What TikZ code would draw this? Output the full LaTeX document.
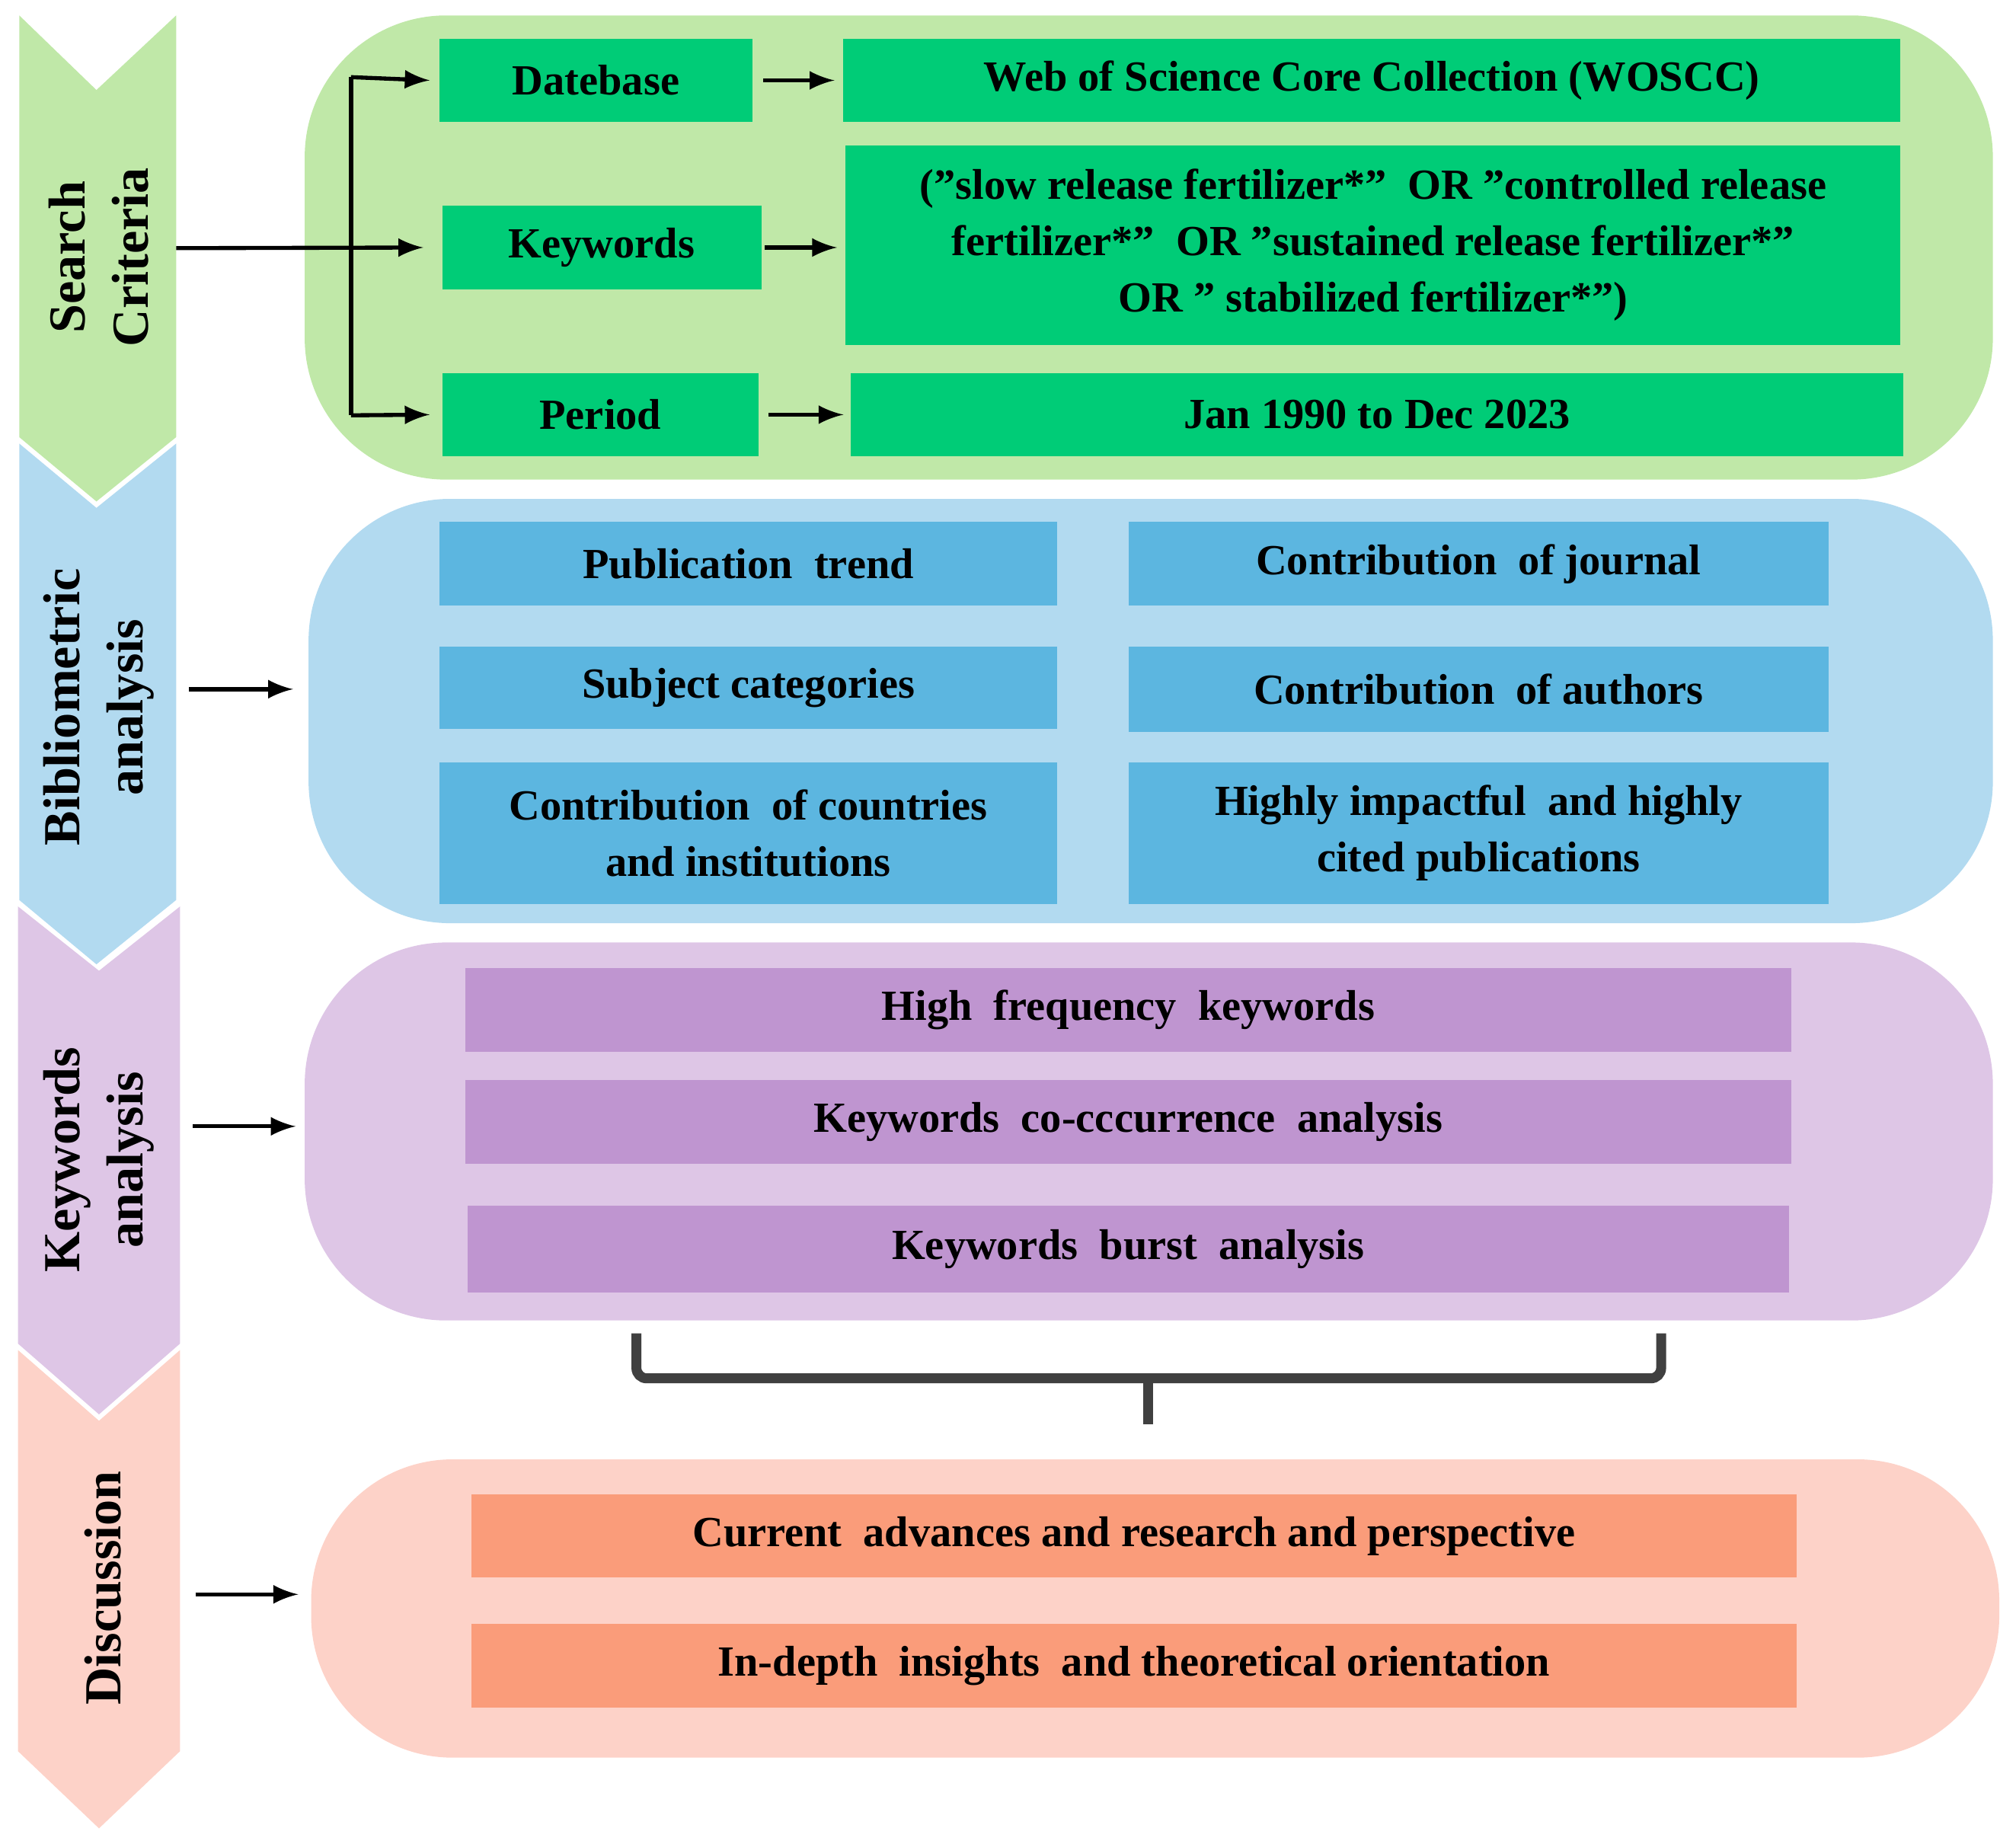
\documentclass[tikz,border=0pt]{standalone}
\usepackage{fontspec}
\setmainfont{Liberation Serif}
\definecolor{gL}{HTML}{C0E8A8}\definecolor{gB}{HTML}{00CC77}
\definecolor{bL}{HTML}{B2DAF0}\definecolor{bB}{HTML}{5CB6E0}
\definecolor{pL}{HTML}{DEC6E6}\definecolor{pB}{HTML}{BF95D0}
\definecolor{sL}{HTML}{FDD2C8}\definecolor{sB}{HTML}{FA9C7A}
\begin{document}
\begin{tikzpicture}[x=0.01cm,y=-0.01cm,
 bx/.style={rectangle,fill=#1,inner sep=0pt,align=center,font=\fontsize{9.5}{12.5}\selectfont\bfseries},
 panel/.style={fill=#1,rounded corners=1.1cm},
 lab/.style={rotate=90,align=center,font=\fontsize{11.5}{14}\selectfont\bfseries},
 ar/.style={-latex,line width=0.9pt}]
\useasboundingbox (0,0) rectangle (1568,1436);
% chevrons
\fill[gL] (15,12)--(75,70)--(137,12)--(137,340)--(75,390)--(15,340)--cycle;
\fill[bL] (15,345)--(75,395)--(137,345)--(137,700)--(75,750)--(15,700)--cycle;
\fill[pL] (14,705)--(77,755)--(140,705)--(140,1045)--(77,1100)--(14,1045)--cycle;
\fill[sL] (14,1050)--(77,1105)--(140,1050)--(140,1362)--(77,1422)--(14,1362)--cycle;
\node[lab] (l1) at (77,200) {Search\\Criteria};
\node[lab] (l2) at (77,550) {Bibliometric\\analysis};
\node[lab] (l3) at (77,902) {Keywords\\analysis};
\node[lab] (l4) at (80,1235) {Discussion};
% panels
\fill[panel=gL] (237,12) rectangle (1550,373);
\fill[panel=bL] (240,388) rectangle (1550,718);
\fill[panel=pL] (237,733) rectangle (1550,1027);
\fill[panel=sL] (242,1135) rectangle (1555,1367);
% green
\node[bx=gB,minimum width=2.43cm,minimum height=0.65cm] (db) at (463.5,62.5) {Datebase};
\node[bx=gB,minimum width=8.22cm,minimum height=0.65cm] (wos) at (1067,62.5) {Web of Science Core Collection (WOSCC)};
\node[bx=gB,minimum width=2.48cm,minimum height=0.65cm] (kw) at (468,192.5) {Keywords};
\node[bx=gB,minimum width=8.20cm,minimum height=1.55cm] (kwt) at (1068,190.5) {("slow release fertilizer*"\ \ OR "controlled release\\fertilizer*"\ \ OR "sustained release fertilizer*"\\OR " stabilized fertilizer*")};
\node[bx=gB,minimum width=2.46cm,minimum height=0.65cm] (per) at (467,322.5) {Period};
\node[bx=gB,minimum width=8.18cm,minimum height=0.65cm] (jan) at (1071,322.5) {Jan 1990 to Dec 2023};
\draw[ar] (db.east)++(8,0) -- ([xshift=-0.06cm]wos.west);
\draw[ar] (kw.east)++(2,0) -- ([xshift=-0.06cm]kwt.west|-kw.east);
\draw[ar] (per.east)++(7,0) -- ([xshift=-0.05cm]jan.west);
\coordinate (sc) at (137,193);
\coordinate (j) at (273,193);
\draw[ar] (sc) -- ([xshift=-0.14cm]kw.west);
\draw[line width=0.9pt] (273,60) -- (273,323);
\draw[ar] (273,60) -- ([xshift=-0.07cm]db.west);
\draw[ar] (273,323) -- ([xshift=-0.09cm]per.west);
% blue
\node[bx=bB,minimum width=4.80cm,minimum height=0.65cm] (b1) at (582,438.5) {Publication\ \ trend};
\node[bx=bB,minimum width=5.44cm,minimum height=0.65cm] (b2) at (1150,438.5) {Contribution\ \ of journal};
\node[bx=bB,minimum width=4.80cm,minimum height=0.64cm] (b3) at (582,535) {Subject categories};
\node[bx=bB,minimum width=5.44cm,minimum height=0.66cm] (b4) at (1150,536) {Contribution\ \ of authors};
\node[bx=bB,minimum width=4.80cm,minimum height=1.10cm] (b5) at (582,648) {Contribution\ \ of countries\\and institutions};
\node[bx=bB,minimum width=5.44cm,minimum height=1.10cm] (b6) at (1150,648) {Highly impactful\ \ and highly\\cited publications};
\coordinate (ba) at (147,536);\coordinate (bb) at (228,536);
\draw[ar] (ba) -- (bb);
% purple
\node[bx=pB,minimum width=10.31cm,minimum height=0.65cm] (p1) at (877.5,785.5) {High\ \ frequency\ \ keywords};
\node[bx=pB,minimum width=10.31cm,minimum height=0.65cm] (p2) at (877.5,872.5) {Keywords\ \ co-cccurrence\ \ analysis};
\node[bx=pB,minimum width=10.27cm,minimum height=0.67cm] (p3) at (877.5,971.5) {Keywords\ \ burst\ \ analysis};
\coordinate (pa) at (150,876);\coordinate (pb) at (230,876);
\draw[ar] (pa) -- (pb);
% brace
\draw[line width=2.2pt,color=black!75,rounded corners=0.08cm] (495,1037)--(495,1072)--(1292,1072)--(1292,1037);
\draw[line width=2.2pt,color=black!75] (893,1072)--(893,1108);
% salmon
\node[bx=sB,minimum width=10.30cm,minimum height=0.65cm] (s1) at (882,1194.5) {Current\ \ advances and research and perspective};
\node[bx=sB,minimum width=10.30cm,minimum height=0.65cm] (s2) at (882,1295.5) {In-depth\ \ insights\ \ and theoretical orientation};
\coordinate (sa) at (152,1240);\coordinate (sb) at (232,1240);
\draw[ar] (sa) -- (sb);
\end{tikzpicture}
\end{document}
